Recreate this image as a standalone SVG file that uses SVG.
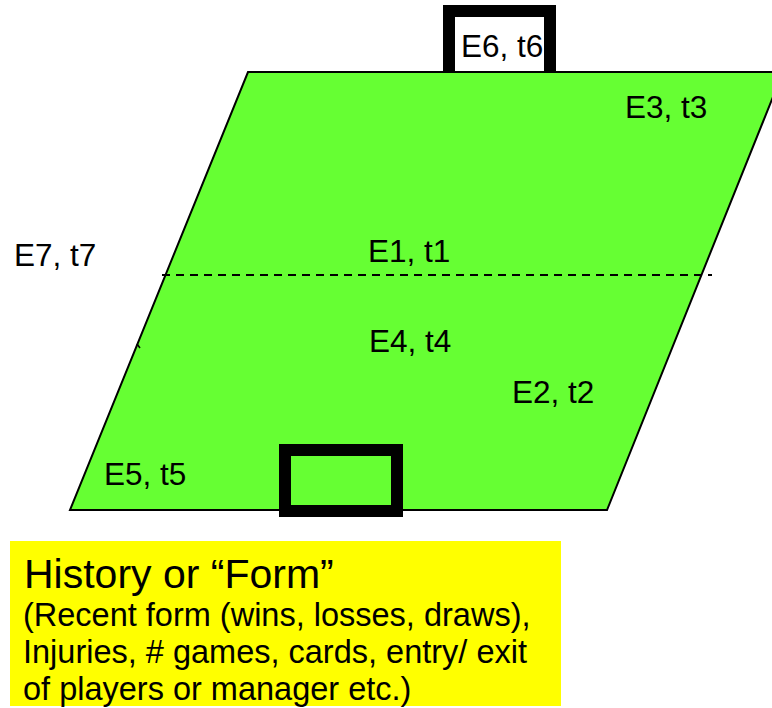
<svg xmlns="http://www.w3.org/2000/svg" width="772" height="708" viewBox="0 0 772 708">
<style>
.lbl{font-family:"Liberation Sans",Arial,sans-serif;font-size:31.5px;fill:#000}
.goal{stroke:#000;stroke-width:12}
.big{font-family:"Liberation Sans",Arial,sans-serif;font-size:41px;fill:#000}
.sm{font-family:"Liberation Sans",Arial,sans-serif;font-size:32.5px;fill:#000}
</style>
<rect width="772" height="708" fill="#fff"/>
<g id="goal-top">
<rect class="goal" x="449" y="11" width="101" height="70" fill="#fff"/>
</g>
<g id="pitch">
<polygon points="248,72 783,72 607,510 70,510" fill="#66FF33" stroke="#000" stroke-width="2"/>
<line x1="137" y1="344" x2="140" y2="348" stroke="#000" stroke-width="1.5"/>
</g>
<g id="connectors">
<line x1="162" y1="275" x2="712" y2="275" stroke="#000" stroke-width="2" stroke-dasharray="8,6"/>
</g>
<g id="goal-bottom">
<rect class="goal" x="285" y="450" width="112" height="61" fill="#66FF33"/>
</g>
<g id="E6"><text class="lbl" x="461" y="57">E6, t6</text></g>
<g id="E3"><text class="lbl" x="625" y="118">E3, t3</text></g>
<g id="E7"><text class="lbl" x="14" y="266">E7, t7</text></g>
<g id="E1"><text class="lbl" x="368" y="262">E1, t1</text></g>
<g id="E4"><text class="lbl" x="369" y="352">E4, t4</text></g>
<g id="E2"><text class="lbl" x="512" y="403">E2, t2</text></g>
<g id="E5"><text class="lbl" x="104" y="485">E5, t5</text></g>
<g id="history">
<rect x="10" y="541" width="551" height="165" fill="#FFFF00"/>
<text class="big" x="24" y="588">History or “Form”</text>
<text class="sm" x="23" y="626">(Recent form (wins, losses, draws),</text>
<text class="sm" x="23" y="663">Injuries, # games, cards, entry/ exit</text>
<text class="sm" x="23" y="700">of players or manager etc.)</text>
</g>
</svg>
